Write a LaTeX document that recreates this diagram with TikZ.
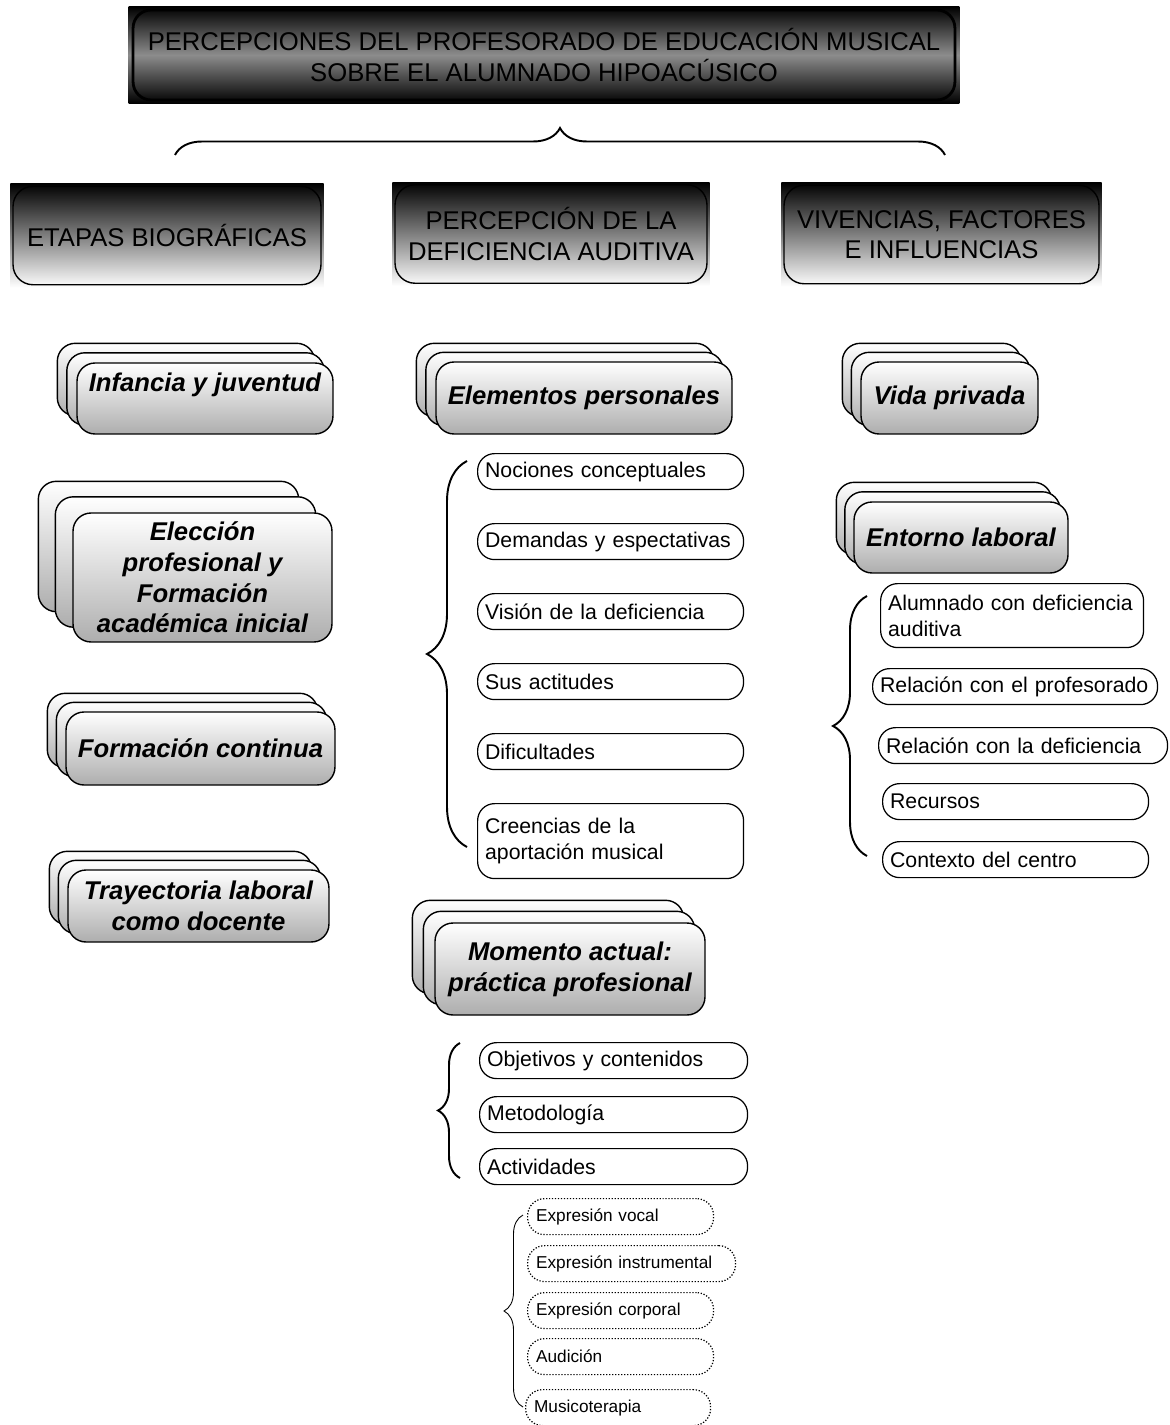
\documentclass[tikz,border=0pt]{standalone}
\usepackage{fontspec}
\setmainfont{Liberation Sans}
\usetikzlibrary{calc,backgrounds,decorations.pathreplacing}

\tikzset{
	titulo/.style={draw, line width=1.6pt, rounded corners=0.36cm, minimum width=16.44cm, minimum height=1.8cm,
		align=center, font=\fontsize{14.6}{17.1}\selectfont},
	cabecera/.style={draw, line width=0.8pt, rounded corners=0.4cm, minimum height=1.97cm,
		align=center, font=\fontsize{14.6}{17.4}\selectfont},
	pila/.style={draw, line width=0.8pt, rounded corners=0.36cm, top color=white, bottom color=black!32,
		inner sep=0.1cm, align=center, font=\fontsize{14.6}{17.5}\selectfont\bfseries\itshape},
	pilafondo/.style={draw, line width=0.8pt, rounded corners=0.36cm, top color=white, bottom color=black!32},
	tema/.style={draw, line width=0.7pt, rounded corners=0.34cm, fill=white, anchor=north west,
		inner xsep=0.15cm, minimum height=0.72cm, text width=#1, align=left, font=\fontsize{12.1}{14.8}\selectfont},
	subtema/.style={tema=#1, densely dotted, inner xsep=0.17cm, font=\fontsize{9.8}{12}\selectfont},
	llave/.style={decorate, decoration={brace, amplitude=#1}, line width=1.1pt}
}

% two shifted copies behind a stacked box
\newcommand{\fondos}[3]{%
	\begin{scope}[on background layer]
		\foreach \k in {2,1}
			\shadedraw[pilafondo] ($(#1.south west)+(-\k*#2,-\k*#3)$) rectangle ($(#1.north east)+(-\k*#2,-\k*#3)$);
	\end{scope}}

\begin{document}
\begin{tikzpicture}[x=0.02cm, y=-0.02cm]
	\useasboundingbox (0,0) rectangle (1169,1425);

	% titulo
	\node[titulo] (titulo) at (544,55) {PERCEPCIONES DEL PROFESORADO DE EDUCACIÓN MUSICAL\\SOBRE EL ALUMNADO HIPOACÚSICO};
	\begin{scope}[on background layer]
		\shade[top color=black, bottom color=black, middle color=black!45] ($(titulo.south west)+(-3,2)$) rectangle ($(titulo.north east)+(3,-2)$);
	\end{scope}

	\coordinate (llaveA) at (175,155);
	\coordinate (llaveB) at (945,155);
	\draw[llave=0.54cm] (llaveA) -- (llaveB);

	% cabeceras
	\node[cabecera, minimum width=6.16cm] (etapas) at (167,235.5) {ETAPAS BIOGRÁFICAS};
	\node[cabecera, minimum width=6.24cm] (percepcion) at (551,234) {PERCEPCIÓN DE LA\\DEFICIENCIA AUDITIVA};
	\node[cabecera, minimum width=6.30cm] (vivencias) at (941.5,234.5) {VIVENCIAS, FACTORES\\E INFLUENCIAS};
	\begin{scope}[on background layer]
		\foreach \c in {etapas,percepcion,vivencias}
			\shade[top color=black, bottom color=white] ($(\c.south west)+(-2,2)$) rectangle ($(\c.north east)+(2,-2)$);
	\end{scope}

	% etapas biograficas
	\node[pila, minimum width=5.12cm, minimum height=1.42cm, text depth=0.65cm] (infancia) at (205,398.5) {Infancia y juventud};
	\fondos{infancia}{9.5}{9.5}
	\node[pila, minimum width=5.18cm, minimum height=2.58cm] (eleccion) at (202.5,577.5) {Elección\\profesional y\\Formación\\académica inicial};
	\fondos{eleccion}{17}{15.5}
	\node[pila, minimum width=5.38cm, minimum height=1.46cm] (formacion) at (200.5,748.5) {Formación continua};
	\fondos{formacion}{9}{9}
	\node[pila, minimum width=5.22cm, minimum height=1.44cm] (trayectoria) at (198.5,906) {Trayectoria laboral\\como docente};
	\fondos{trayectoria}{9}{9}

	% percepcion de la deficiencia
	\node[pila, minimum width=5.92cm, minimum height=1.44cm] (elementos) at (584,398) {Elementos personales};
	\fondos{elementos}{9.5}{9}
	\node[tema=5.02cm] (nociones) at (477,453) {Nociones conceptuales};
	\node[tema=5.02cm] (demandas) at (477,523) {Demandas y espectativas};
	\node[tema=5.02cm] (vision) at (477,593) {Visión de la deficiencia};
	\node[tema=5.02cm] (actitudes) at (477,663) {Sus actitudes};
	\node[tema=5.02cm] (dificultades) at (477,733) {Dificultades};
	\node[tema=5.02cm, minimum height=1.5cm] (creencias) at (477,803) {Creencias de la\\aportación musical};
	\coordinate (llaveC) at (467,847);
	\coordinate (llaveD) at (467,461);
	\draw[llave=0.8cm] (llaveC) -- (llaveD);

	\node[pila, minimum width=5.4cm, minimum height=1.84cm] (momento) at (570,969) {Momento actual:\\práctica profesional};
	\fondos{momento}{11}{11}
	\node[tema=5.06cm] (objetivos) at (479,1042) {Objetivos y contenidos};
	\node[tema=5.06cm] (metodologia) at (479,1096) {Metodología};
	\node[tema=5.06cm] (actividades) at (479,1148) {Actividades};
	\coordinate (llaveE) at (460,1178);
	\coordinate (llaveF) at (460,1043);
	\draw[llave=0.44cm] (llaveE) -- (llaveF);

	\node[subtema=3.38cm] (vocal) at (527,1198) {Expresión vocal};
	\node[subtema=3.82cm] (instrumental) at (527,1245) {Expresión instrumental};
	\node[subtema=3.38cm] (corporal) at (527,1292) {Expresión corporal};
	\node[subtema=3.38cm] (audicion) at (527,1338) {Audición};
	\node[subtema=3.36cm] (musicoterapia) at (525,1389) {Musicoterapia};
	\coordinate (llaveG) at (523,1407);
	\coordinate (llaveH) at (523,1215);
	\draw[llave=0.38cm, line width=0.5pt] (llaveG) -- (llaveH);

	% vivencias, factores e influencias
	\node[pila, minimum width=3.54cm, minimum height=1.44cm] (privada) at (949.5,398) {Vida privada};
	\fondos{privada}{9}{9}
	\node[pila, minimum width=4.28cm, minimum height=1.42cm] (entorno) at (961,537.5) {Entorno laboral};
	\fondos{entorno}{8.5}{9.5}
	\node[tema=4.96cm, minimum height=1.28cm] (alumnado) at (880,583) {Alumnado con deficiencia\\auditiva};
	\node[tema=5.40cm] (profesorado) at (872,668) {Relación con el profesorado};
	\node[tema=5.48cm] (deficiencia) at (878,727) {Relación con la deficiencia};
	\node[tema=5.02cm] (recursos) at (882,783) {Recursos};
	\node[tema=5.02cm] (contexto) at (882,841) {Contexto del centro};
	\coordinate (llaveI) at (867,856);
	\coordinate (llaveJ) at (867,596);
	\draw[llave=0.68cm] (llaveI) -- (llaveJ);

\end{tikzpicture}
\end{document}
